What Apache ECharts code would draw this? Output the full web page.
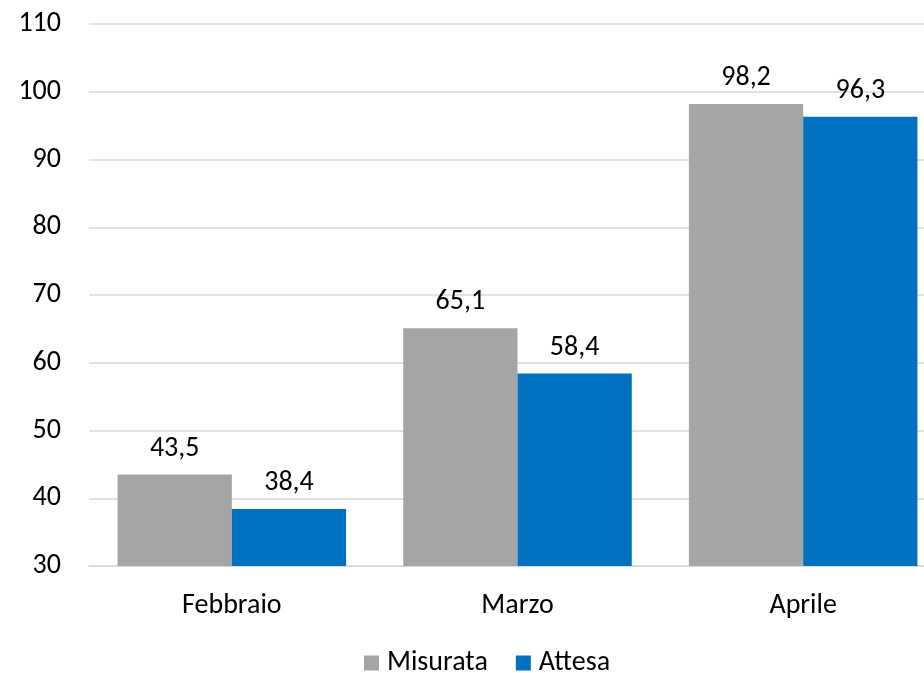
<!DOCTYPE html>
<html>
<head>
<meta charset="utf-8">
<script src="https://cdn.jsdelivr.net/npm/echarts@6/dist/echarts.min.js"></script>
<style>
html,body{margin:0;padding:0;background:#fff;overflow:hidden;}
#chart{width:946px;height:673px;}
</style>
</head>
<body>
<div id="chart"></div>
<script>
// Monthly values: measured vs expected
const categories = ['Febbraio', 'Marzo', 'Aprile'];
const misurata = [43.5, 65.1, 98.2];
const attesa = [38.4, 58.4, 96.3];
const seriesNames = ['Misurata', 'Attesa'];

const FONT = 'Carlito, "Open Sans", "Noto Sans", sans-serif';
const FS = 28;
const fmt = p => String(p.value).replace('.', ',');

const chart = echarts.init(document.getElementById('chart'));
chart.setOption({
  animation: false,
  backgroundColor: '#ffffff',
  grid: { left: 89, top: 24, right: 0, bottom: 107, containLabel: false },
  legend: {
    data: seriesNames,
    top: 648,
    left: 364,
    padding: 0,
    itemWidth: 15,
    itemHeight: 15,
    itemGap: 28,
    icon: 'rect',
    textStyle: { fontFamily: FONT, fontSize: FS, color: '#000', lineHeight: 30, padding: [0, 0, 0, 3] }
  },
  xAxis: {
    type: 'category',
    data: categories,
    axisLine: { show: true, lineStyle: { color: '#d9d9d9', width: 1.5 } },
    axisTick: { show: false },
    axisLabel: { fontFamily: FONT, fontSize: FS, color: '#000', margin: 26 }
  },
  yAxis: {
    type: 'value',
    min: 30,
    max: 110,
    interval: 10,
    axisLine: { show: false },
    axisTick: { show: false },
    splitLine: { lineStyle: { color: '#d9d9d9', width: 1.5 } },
    axisLabel: { fontFamily: FONT, fontSize: FS, color: '#000', margin: 28 }
  },
  series: [
    {
      name: seriesNames[0],
      type: 'bar',
      data: misurata,
      barGap: '0%',
      barCategoryGap: '20%',
      itemStyle: { color: '#a5a5a5' },
      label: { show: true, position: 'top', distance: 12, formatter: fmt,
               fontFamily: FONT, fontSize: FS, color: '#000' }
    },
    {
      name: seriesNames[1],
      type: 'bar',
      data: attesa,
      barGap: '0%',
      barCategoryGap: '20%',
      itemStyle: { color: '#0070c0' },
      label: { show: true, position: 'top', distance: 12, formatter: fmt,
               fontFamily: FONT, fontSize: FS, color: '#000' }
    }
  ]
});
</script>
</body>
</html>
